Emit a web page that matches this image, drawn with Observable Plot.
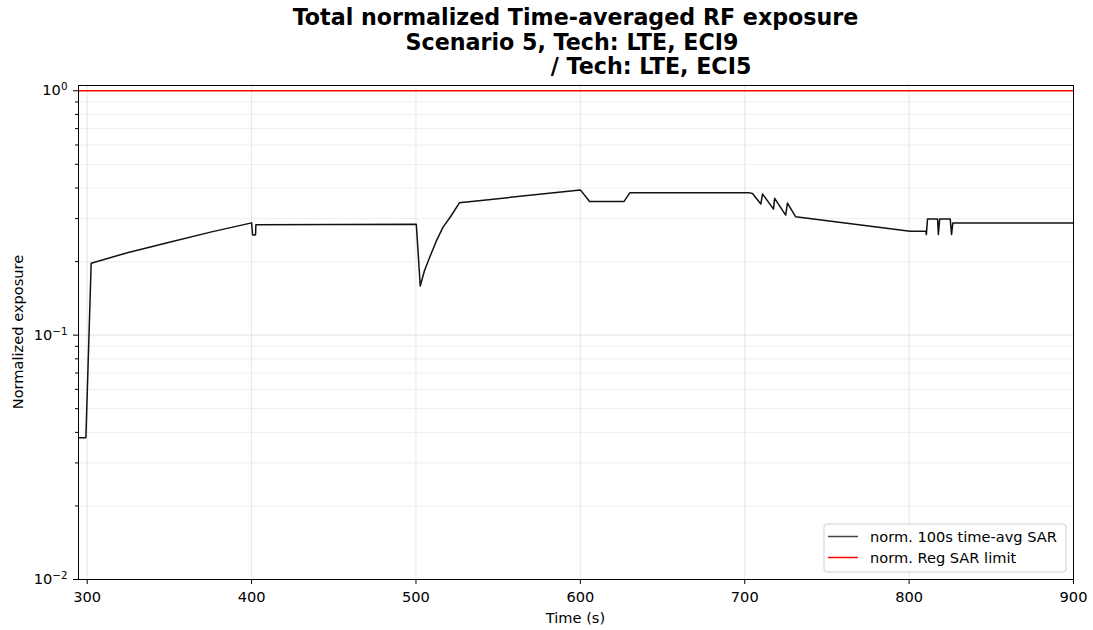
<!DOCTYPE html>
<html>
<head>
<meta charset="utf-8">
<script src="https://cdn.jsdelivr.net/npm/d3@7"></script>
<script src="https://cdn.jsdelivr.net/npm/@observablehq/plot@0.6"></script>
<style>
  html, body { margin: 0; padding: 0; background: white; }
  svg { display: block; }
</style>
</head>
<body>
<div id="chart"></div>
<script>
// ---- Data ----
const times = [294.7, 299.2, 302.4, 325, 350, 375, 400, 400.6, 402.4, 402.6, 500.2, 502.6,
               505.2, 508.3, 512.4, 516.4, 521.4, 526.4, 600, 605.6, 626.5, 630.2,
               702.4, 704.7, 709.8, 710.8, 717.5, 718.2, 724.9, 726, 731, 800.6,
               810.2, 810.5, 811.2, 817.3, 817.8, 818.6, 825, 825.8, 826.6, 900];
const exposure = [0.038, 0.038, 0.197, 0.218, 0.240, 0.264, 0.288, 0.257, 0.257, 0.283, 0.284, 0.159,
                  0.184, 0.208, 0.243, 0.276, 0.308, 0.348, 0.393, 0.352, 0.352, 0.383,
                  0.383, 0.380, 0.344, 0.378, 0.328, 0.363, 0.310, 0.347, 0.305, 0.266,
                  0.266, 0.258, 0.299, 0.299, 0.258, 0.299, 0.299, 0.258, 0.288, 0.288];
const limitTimes = [294.7, 900];
const limitValues = [1, 1];
const xTicks = [300, 400, 500, 600, 700, 800, 900];
const yMajorTicks = [0.01, 0.1, 1];
const yMajorExponents = ["\u22122", "\u22121", "0"];
const yMinorTicks = [0.02, 0.03, 0.04, 0.05, 0.06, 0.07, 0.08, 0.09, 0.2, 0.3, 0.4, 0.5, 0.6, 0.7, 0.8, 0.9];
const titleLines = ["Total normalized Time-averaged RF exposure", "Scenario 5, Tech: LTE, ECI9", "/ Tech: LTE, ECI5"];
const xLabel = "Time (s)";
const yLabel = "Normalized exposure";
const legendLabels = ["norm. 100s time-avg SAR", "norm. Reg SAR limit"];

const sarData = times.map((t, i) => ({t, v: exposure[i]}));
const limitData = limitTimes.map((t, i) => ({t, v: limitValues[i]}));

const W = 1093, H = 630;
const mL = 78, mR = 20, mT = 85, mB = 51;
const FS = 14.6;

const svg = Plot.plot({
  width: W, height: H,
  marginLeft: mL, marginRight: mR, marginTop: mT, marginBottom: mB,
  style: {fontFamily: "DejaVu Sans, sans-serif", fontSize: FS + "px", background: "white", color: "black"},
  x: {domain: [294.7, 900]},
  y: {type: "log", domain: [0.01, 1.051]},
  marks: [
    Plot.gridX(xTicks, {stroke: "#b0b0b0", strokeOpacity: 0.3}),
    Plot.gridY(yMinorTicks, {stroke: "#b0b0b0", strokeOpacity: 0.2}),
    Plot.gridY(yMajorTicks, {stroke: "#b0b0b0", strokeOpacity: 0.35}),
    Plot.line(limitData, {x: "t", y: "v", stroke: "red", strokeWidth: 1.4}),
    Plot.line(sarData, {x: "t", y: "v", stroke: "#111", strokeWidth: 1.5}),
    Plot.frame({stroke: "black", strokeWidth: 1}),
    Plot.axisX({ticks: xTicks, tickSize: 5, tickPadding: 7, label: null, tickFormat: d => String(d), fill: "black"}),
    Plot.axisY({ticks: yMajorTicks, tickSize: 5, tickPadding: 6, label: null,
                tickFormat: d => "10^" + yMajorExponents[yMajorTicks.indexOf(d)], fill: "black"}),
    Plot.axisY({ticks: yMinorTicks, tickSize: 3, label: null, tickFormat: () => ""})
  ]
});
document.getElementById("chart").appendChild(svg);

const s = d3.select(svg);
// Render "10^e" tick labels with real superscripts
s.selectAll("text").each(function () {
  const t = this.textContent;
  if (/^10\^/.test(t)) {
    const exp = t.slice(3);
    const el = d3.select(this);
    el.text("10");
    el.append("tspan").attr("dy", "-0.5em").attr("font-size", "71%").text(exp);
  }
});

// Title
const titleX = [575.5, 572, 651];
const titleY = [25, 50, 74];
titleLines.forEach((line, i) => {
  s.append("text").attr("x", titleX[i]).attr("y", titleY[i])
    .attr("text-anchor", "middle").attr("font-size", 22.2).attr("font-weight", "bold")
    .attr("font-family", "DejaVu Sans, sans-serif").attr("fill", "black").text(line);
});
// Axis labels
s.append("text").attr("x", (mL + W - mR) / 2).attr("y", 623)
  .attr("text-anchor", "middle").attr("font-size", FS).attr("fill", "black").text(xLabel);
s.append("text").attr("transform", `translate(23,${(mT + H - mB) / 2}) rotate(-90)`)
  .attr("text-anchor", "middle").attr("font-size", FS).attr("fill", "black").text(yLabel);

// Legend
const lg = s.append("g");
lg.append("rect").attr("x", 824).attr("y", 524).attr("width", 242).attr("height", 48)
  .attr("rx", 3).attr("fill", "white").attr("fill-opacity", 0.8).attr("stroke", "#d0d0d0");
const legendColors = ["#444", "red"];
const legendY = [536.5, 557.5];
legendLabels.forEach((lab, i) => {
  lg.append("line").attr("x1", 828).attr("x2", 858).attr("y1", legendY[i]).attr("y2", legendY[i])
    .attr("stroke", legendColors[i]).attr("stroke-width", 1.5);
  lg.append("text").attr("x", 870).attr("y", legendY[i]).attr("dy", "0.35em")
    .attr("text-anchor", "start").attr("font-size", FS).attr("fill", "black").text(lab);
});
</script>
</body>
</html>
